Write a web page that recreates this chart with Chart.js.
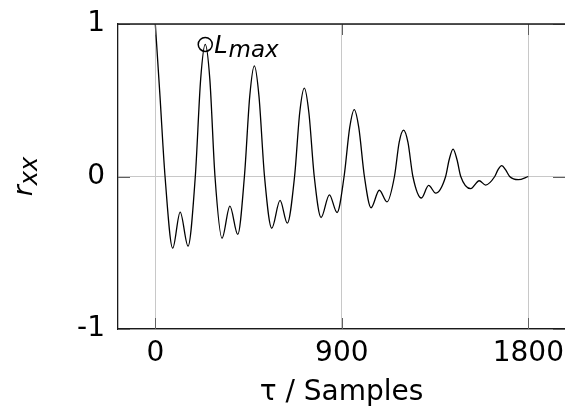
<!DOCTYPE html>
<html lang="en">
<head>
<meta charset="UTF-8">
<title>Autocorrelation</title>
<script src="https://cdn.jsdelivr.net/npm/chart.js@4.4.1/dist/chart.umd.min.js"></script>
<style>
  html, body { margin: 0; padding: 0; background: #fff; }
  #chart { display: block; }
</style>
</head>
<body>
<canvas id="chart" width="565" height="406"></canvas>
<script>
  // lag in samples and the autocorrelation
  const tau = [
    0, 22, 47, 84, 120, 158,
    193, 219, 241, 263, 288, 322, 360, 398,
    430, 456, 478, 500, 527, 562, 602, 637,
    672, 697, 719, 741, 767, 800, 840, 877,
    911, 938, 960, 982, 1009, 1041, 1081, 1118,
    1154, 1177, 1198, 1219, 1243, 1284, 1319, 1353,
    1401, 1418, 1437, 1456, 1474, 1522, 1563, 1594,
    1638, 1654, 1672, 1690, 1710, 1752, 1800
  ];
  const rxx = [
    1.000, 0.540, 0.000, -0.470, -0.233, -0.456,
    0.000, 0.640, 0.866, 0.640, 0.000, -0.405, -0.194, -0.380,
    0.000, 0.530, 0.725, 0.530, 0.000, -0.339, -0.157, -0.306,
    0.000, 0.420, 0.580, 0.420, 0.000, -0.269, -0.120, -0.236,
    0.000, 0.320, 0.439, 0.320, 0.000, -0.205, -0.090, -0.167,
    0.000, 0.225, 0.304, 0.225, 0.000, -0.141, -0.058, -0.109,
    0.000, 0.110, 0.180, 0.110, 0.000, -0.080, -0.028, -0.056,
    0.000, 0.045, 0.071, 0.045, 0.000, -0.021, 0.000
  ];
  const xTicks = [0, 900, 1800];
  const yTicks = [-1, 0, 1];
  const yTickLabels = ['-1', '0', '1'];
  // marked maximum (lag, value)
  const lMaxTau = [241];
  const lMaxVal = [0.866];

  const FONT = '"DejaVu Sans", sans-serif';
  const GRID = '#c8c8c8';
  const TICKC = '#606060';
  const FRAME = '#1a1a1a';

  // top border, inward ticks, y title and L_max label
  const framePlugin = {
    id: 'frame',
    afterDraw(chart) {
      const ctx = chart.ctx;
      const a = chart.chartArea;
      const xs = chart.scales.x, ys = chart.scales.y;
      ctx.save();
      ctx.strokeStyle = TICKC;
      ctx.lineWidth = 1;
      xTicks.forEach(v => {
        const px = Math.round(xs.getPixelForValue(v)) + 0.5;
        ctx.beginPath();
        ctx.moveTo(px, a.bottom); ctx.lineTo(px, a.bottom - 11);
        ctx.moveTo(px, a.top); ctx.lineTo(px, a.top + 11);
        ctx.stroke();
      });
      yTicks.forEach(v => {
        const py = Math.round(ys.getPixelForValue(v)) + 0.5;
        ctx.beginPath();
        ctx.moveTo(a.left, py); ctx.lineTo(a.left + 12, py);
        ctx.moveTo(a.right, py); ctx.lineTo(a.right - 12, py);
        ctx.stroke();
      });
      ctx.strokeStyle = FRAME;
      ctx.lineWidth = 1.3;
      ctx.beginPath();
      ctx.moveTo(a.left, a.top); ctx.lineTo(a.right, a.top);
      ctx.stroke();

      // y title r_xx
      ctx.fillStyle = '#000';
      ctx.textBaseline = 'alphabetic';
      ctx.textAlign = 'left';
      ctx.translate(32, (a.top + a.bottom) / 2);
      ctx.rotate(-Math.PI / 2);
      ctx.font = 'italic 27px ' + FONT;
      const wr = ctx.measureText('r').width;
      ctx.font = 'italic 24px ' + FONT;
      const wx = ctx.measureText('xx').width;
      const x0 = -(wr + wx) / 2;
      ctx.font = 'italic 27px ' + FONT;
      ctx.fillText('r', x0, 0);
      ctx.font = 'italic 24px ' + FONT;
      ctx.fillText('xx', x0 + wr, 5);
      ctx.restore();

      // L_max label
      ctx.save();
      const px = xs.getPixelForValue(lMaxTau[0]);
      const py = ys.getPixelForValue(lMaxVal[0]);
      ctx.fillStyle = '#000';
      ctx.textBaseline = 'alphabetic';
      ctx.textAlign = 'left';
      ctx.font = 'italic 24px ' + FONT;
      ctx.fillText('L', px + 9, py + 9);
      const wl = ctx.measureText('L').width;
      ctx.font = 'italic 23px ' + FONT;
      ctx.fillText('max', px + 9 + wl + 1, py + 12.5);
      ctx.restore();
    }
  };

  new Chart(document.getElementById('chart'), {
    type: 'line',
    data: {
      datasets: [
        {
          data: tau.map((t, i) => ({ x: t, y: rxx[i] })),
          borderColor: '#000',
          borderWidth: 1.3,
          pointRadius: 0,
          cubicInterpolationMode: 'monotone',
          fill: false
        },
        {
          data: lMaxTau.map((t, i) => ({ x: t, y: lMaxVal[i] })),
          showLine: false,
          pointRadius: 7,
          pointBorderWidth: 1.5,
          pointBorderColor: '#000',
          pointBackgroundColor: 'rgba(0,0,0,0)'
        }
      ]
    },
    options: {
      responsive: false,
      animation: false,
      layout: { autoPadding: false, padding: { left: 0, right: 0, top: 24, bottom: 0 } },
      plugins: { legend: { display: false }, tooltip: { enabled: false } },
      scales: {
        x: {
          type: 'linear',
          min: -180,
          max: 1977,
          afterBuildTicks: s => { s.ticks = xTicks.map(v => ({ value: v })); },
          afterFit: s => { s.height = 77; s.paddingLeft = 0; s.paddingRight = 0; },
          ticks: {
            color: '#000',
            font: { family: FONT, size: 28 },
            padding: 0,
            maxRotation: 0,
            autoSkip: false,
            callback: v => String(v)
          },
          grid: { color: GRID, lineWidth: 1, drawTicks: true, tickLength: 8, tickColor: 'rgba(0,0,0,0)' },
          border: { display: true, color: FRAME, width: 1.3 },
          title: {
            display: true,
            text: 'τ / Samples',
            color: '#000',
            font: { family: FONT, size: 28, lineHeight: 0.92 },
            padding: { top: 0, bottom: 0 }
          }
        },
        y: {
          min: -1,
          max: 1,
          afterBuildTicks: s => { s.ticks = yTicks.map(v => ({ value: v })); },
          afterFit: s => { s.width = 118; s.paddingTop = 0; s.paddingBottom = 0; },
          ticks: {
            color: '#000',
            font: { family: FONT, size: 28 },
            padding: 13,
            callback: v => yTickLabels[yTicks.indexOf(v)]
          },
          grid: { color: GRID, lineWidth: 1, drawTicks: false },
          border: { display: true, color: FRAME, width: 1.3 }
        }
      }
    },
    plugins: [framePlugin]
  });
</script>
</body>
</html>
